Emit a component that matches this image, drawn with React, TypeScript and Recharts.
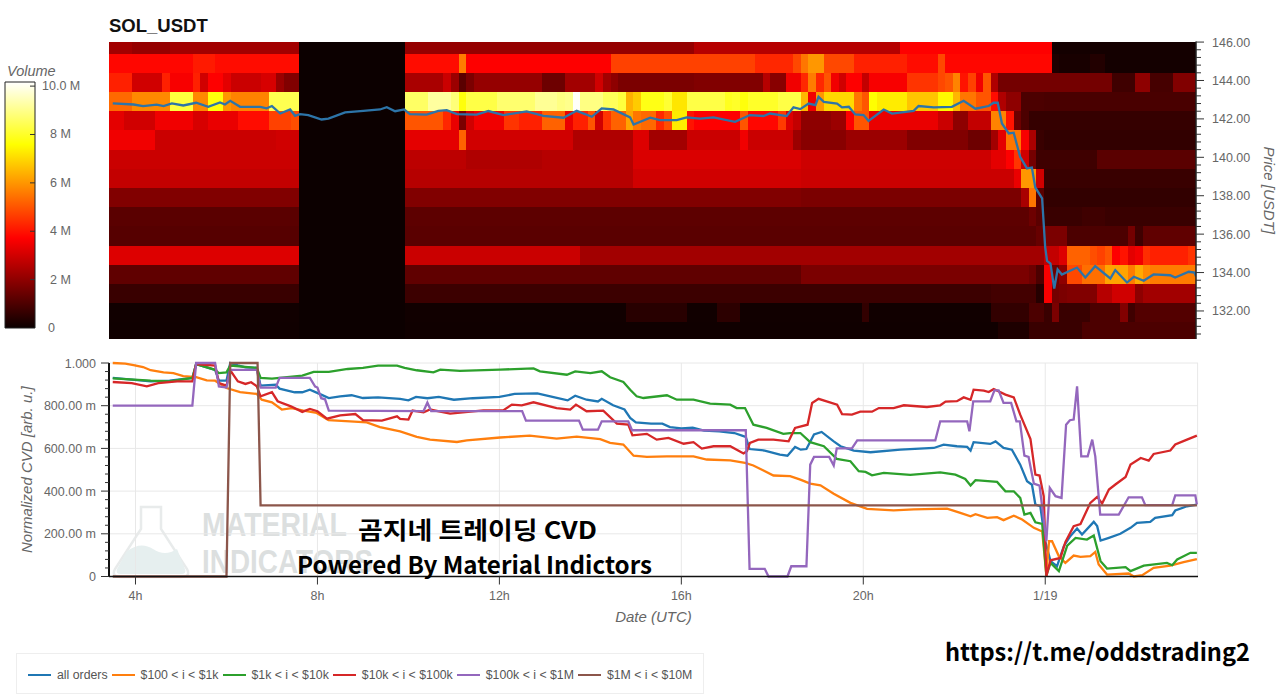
import {
  Bar, BarChart, CartesianGrid, ComposedChart, Legend, Line, LineChart, XAxis, YAxis,
} from 'recharts';

// heatmap: one list per price bin, top to bottom, as [first column, volume in M]
// a value holds until the next entry; there are 143 ten minute columns
const ROW_00 = [[0, 2.3], [3, 2.1], [8, 2.3], [25, .02], [39, 2.1], [77, 2.6], [104, 3.7], [124, .15]];
const ROW_01 = [[0, 3.8], [11, 4.1], [14, 3.9], [25, .02], [39, 3.9], [46, 5.6], [47, 3.7], [66, 4.7], [85, 4.3], [90, 4.8], [91, 5.5], [92, 6], [94, 4.8], [98, 4.2], [105, 3.9], [109, 4.8], [110, 3.8], [124, .3], [125, .2], [129, .35], [131, .15]];
const ROW_02 = [[0, 4.2], [3, 3], [7, 4.2], [8, 3.6], [11, 4.2], [12, 3], [13, 3.7], [15, 3.3], [16, 2.9], [20, 3.1], [22, 2.2], [23, 1.8], [25, .02], [39, 2.4], [44, 2.9], [45, 2.2], [46, 1.2], [47, 1.7], [48, 2.1], [57, 1.5], [60, 2.3], [64, 3], [65, 2.3], [66, 2], [67, 1.7], [77, 1.8], [86, 2.6], [87, 1.9], [89, 3.5], [91, 4.3], [92, 5.6], [93, 4.3], [94, 5], [95, 3.5], [96, 3], [97, 3.7], [99, 2.8], [100, 3.6], [105, 4.5], [109, 4.8], [110, 5], [111, 5.7], [112, 4], [113, 4.7], [114, 3.5], [115, 5], [116, 2.5], [117, 1.6], [132, .8], [135, 2], [137, .9], [140, 1.8]];
const ROW_03 = [[0, 5.3], [3, 5.8], [8, 8.2], [11, 5.8], [13, 7.7], [15, 6], [16, 5.7], [21, 8.4], [25, .02], [39, 8.6], [42, 9.2], [45, 8.8], [46, 7.7], [47, 8.3], [51, 8.7], [56, 9.1], [59, 8.9], [60, 9], [61, 10.1], [62, 8.9], [65, 8.5], [67, 8.2], [68, 6.4], [69, 6.8], [70, 7.8], [73, 8.1], [74, 7.2], [76, 8.3], [81, 7.9], [82, 8], [83, 7.7], [84, 8], [88, 8.3], [91, 6.5], [92, 3.5], [93, 6], [94, 7], [98, 5.5], [99, 5], [100, 7.6], [101, 7.3], [105, 6.7], [109, 7.5], [111, 6.5], [112, 5.5], [114, 5], [116, 3.9], [117, 2.5], [118, 2], [120, 1], [123, .95]];
const ROW_04 = [[0, 3.3], [2, 3], [6, 3.5], [11, 3.1], [13, 3.4], [17, 3.9], [21, 4.7], [24, 4.9], [25, .02], [39, 5], [44, 4.3], [45, 3.4], [46, 1.7], [47, 3], [48, 3.5], [52, 4.5], [54, 4.2], [57, 5.2], [60, 3.4], [61, 4.2], [63, 5], [64, 3], [65, 4.5], [66, 5.2], [68, 6.2], [69, 5.5], [70, 5.3], [72, 4.3], [73, 4.9], [74, 7.3], [76, 4], [77, 3.7], [83, 5], [84, 3.8], [88, 4.6], [89, 3.2], [90, 2.8], [91, 2], [95, 2.2], [97, 3.7], [98, 5], [100, 3.4], [109, 2.9], [111, 2], [113, 2.8], [116, 5.7], [118, 4], [119, 1.5], [120, 1], [121, .65]];
const ROW_05 = [[0, 3.5], [6, 2.9], [22, 3], [25, .02], [39, 3.3], [46, 5.2], [47, 3], [61, 2.5], [69, 3.2], [71, 2.3], [76, 2.9], [83, 3.5], [84, 2.9], [90, 2.2], [91, 1.9], [97, 2.2], [105, 1.8], [113, 1.5], [116, 2.3], [117, 3.3], [118, 5.5], [120, 3.6], [121, 2.4], [122, .7], [123, .6]];
const ROW_06 = [[0, 2.9], [25, .02], [39, 2.7], [47, 2.5], [57, 2.6], [69, 3.15], [91, 2.95], [116, 3.3], [118, 3.7], [119, 4.5], [120, 3], [121, 1.6], [122, .8], [130, 1.2]];
const ROW_07 = [[0, 2.8], [25, .02], [39, 2.6], [69, 3], [91, 2.9], [119, 3.4], [120, 6], [122, 3], [123, .7]];
const ROW_08 = [[0, 1.8], [25, .02], [39, 1.8], [91, 1.7], [120, 2.4], [121, 5.5], [122, 1.2], [123, .6]];
const ROW_09 = [[0, 1.2], [25, .02], [39, 1.25], [121, 1.5], [122, 1.2], [123, .7], [128, .8], [131, .7]];
const ROW_10 = [[0, 1.15], [25, .02], [39, 1.2], [122, 1.4], [123, 1.7], [126, 1], [134, 1.6], [135, .8], [136, 1.3]];
const ROW_11 = [[0, 3.2], [25, .02], [39, 2.9], [62, 2.3], [123, 2.8], [125, 3.2], [126, 5.2], [129, 4.9], [130, 4.7], [131, 5], [132, 3.7], [133, 4], [134, 3.3], [135, 3.5], [136, 4.4], [137, 4.2], [142, 4.5]];
const ROW_12 = [[0, 1.3], [25, .02], [39, 1.3], [91, 1.7], [121, 1.5], [122, 1], [123, 3.6], [124, 1.5], [125, 2], [126, 4.8], [128, 5.4], [131, 6.2], [134, 5.6], [135, 6.3], [136, 5.8], [137, 5.6]];
const ROW_13 = [[0, .7], [25, .02], [39, .75], [116, .85], [122, .4], [123, 3.6], [124, 1.6], [125, 1.7], [126, 1.8], [130, 2.6], [132, 3], [135, 2], [136, 2.3]];
const ROW_14 = [[0, .1], [25, .02], [39, .1], [68, .45], [76, .1], [80, .5], [83, .1], [99, .6], [100, .1], [116, .6], [121, 1], [123, .7], [124, 1.7], [125, .7], [129, 1], [133, 1.8], [134, .8], [135, 1.1]];
const ROW_15 = [[0, .08], [25, .02], [39, .08], [117, .3], [121, .7], [128, 1]];
const HEAT_ROWS = [ROW_00, ROW_01, ROW_02, ROW_03, ROW_04, ROW_05, ROW_06, ROW_07, ROW_08, ROW_09, ROW_10, ROW_11, ROW_12, ROW_13, ROW_14, ROW_15];
const BIN_HEIGHTS = [.63, 1, 1, 1, 1, 1, 1, 1, 1, 1, 1, 1, 1, 1, 1, .86];
const PRICE_MIN = 130.54;
const PRICE_MAX = 146.03;
const COLUMNS = 143;
const VOLUME_MAX = 10.17;

// x is the five minute bar counted from 3:30
const PRICE = [[0, 142.81], [5.5, 142.75], [8, 142.67], [11.6, 142.74], [13.4, 142.67], [15.6, 142.81], [18.6, 142.7], [22, 142.84], [25.2, 142.63], [28.3, 142.86], [29.6, 142.75], [31, 142.94], [33.6, 142.63], [38.9, 142.63], [40.6, 142.55], [42, 142.67], [44.2, 142.28], [46.8, 142.49], [48.1, 142.16], [49.4, 142.25], [51.6, 142.2], [55.1, 141.97], [56.9, 142.02], [61.3, 142.34], [66.1, 142.42], [70.5, 142.49], [72.3, 142.61], [74.5, 142.4], [76.9, 142.49], [78.4, 142.25], [82.8, 142.22], [85.9, 142.42], [88.1, 142.46], [90.8, 142.25], [96, 142.22], [99.1, 142.41], [103.1, 142.2], [109.2, 142.39], [113.6, 142.16], [118.9, 142.06], [122.4, 142.42], [126.4, 142.11], [129, 142.55], [132.1, 142.49], [136.5, 142.08], [137.4, 141.71], [141.8, 142.06], [144.4, 141.94], [148.8, 141.94], [151.4, 142.08], [155, 142.01], [158.5, 142.08], [164.2, 141.85], [168.1, 142.2], [171.7, 142.15], [173.4, 142.28], [177.8, 142.15], [179.6, 142.6], [181.4, 142.51], [183.6, 142.8], [185.4, 142.72], [186.2, 143.15], [187.6, 142.89], [191.1, 142.8], [192.4, 142.6], [194.2, 142.63], [195.9, 142.23], [198.1, 142.2], [199.4, 141.9], [203.4, 142.49], [205.6, 142.28], [211.3, 142.42], [212.6, 142.67], [216.6, 142.6], [221.4, 142.63], [224.5, 142.94], [227.6, 142.53], [231.1, 142.67], [232.4, 142.84], [233.5, 142.84], [234.6, 141.76], [236.4, 141.24], [237.7, 141.28], [239.4, 140.03], [241.2, 139.42], [242.5, 139.47], [243.4, 138.43], [245.2, 137.86], [246, 135.34], [246.5, 134.61], [247.4, 134.47], [248.4, 133.17], [249.3, 134.16], [250.4, 133.9], [254.4, 134.26], [256.6, 133.74], [259.2, 134.33], [263.2, 133.69], [264.5, 134.13], [267.6, 133.48], [269.4, 133.78], [272, 133.57], [274.6, 133.9], [279, 133.86], [280.3, 133.74], [283.9, 134.04], [285.4, 134], [285.8, 133.81]];

const ALL_ORDERS = [[0, .93], [10, .914], [15, .917], [21, .93], [22, .995], [27, .968], [28, .917], [30, .917], [31, 1], [33, .989], [35, .98], [38, .977], [39, .894], [43, .899], [44, .88], [48, .863], [50, .863], [52, .875], [55, .852], [57, .836], [60, .844], [63, .849], [66, .836], [70, .839], [75.8, .832], [78, .825], [80, .841], [83, .835], [86, .841], [90, .828], [95, .835], [102, .841], [106, .855], [112, .858], [116, .841], [120, .825], [122, .847], [125, .828], [128, .82], [129, .832], [132, .802], [135, .782], [136.5, .743], [138, .722], [142, .716], [145, .716], [147, .7], [150, .694], [153, .697], [156, .683], [160, .68], [164, .672], [166, .66], [167, .654], [168, .597], [172, .59], [176, .571], [178, .566], [180, .607], [181.5, .594], [183, .597], [185, .665], [187, .677], [190.2, .633], [192, .61], [195.5, .59], [199.9, .582], [207.8, .594], [216.6, .602], [219.2, .618], [222.7, .61], [225.4, .607], [226.3, .59], [227.1, .629], [231.5, .621], [232.9, .633], [235, .602], [237.2, .594], [239.4, .524], [241.2, .446], [242.5, .43], [243.4, .337], [244.7, .329], [246, .165], [247.4, .072], [249.1, .048], [250.9, .142], [252.6, .189], [254.4, .225], [255.7, .197], [258.8, .256], [259.7, .236], [260.6, .168], [262.8, .181], [265.8, .2], [268.5, .228], [270.2, .251], [273.7, .256], [275, .275], [279.5, .287], [280.3, .309], [283.4, .329], [286, .337]];
const SIZE_100_1K = [[0, 1], [3.3, .997], [5.5, .99], [8, .981], [10, .966], [13.4, .956], [16, .953], [18.6, .939], [22, .934], [24.8, .919], [27, .917], [30, .883], [33.6, .864], [38, .855], [39.3, .828], [42, .816], [44.6, .782], [47.2, .789], [50.3, .777], [53.8, .766], [56.9, .732], [62.6, .727], [67, .722], [70.5, .7], [75.8, .68], [80.2, .654], [83.7, .641], [90.8, .63], [93.4, .638], [102.2, .651], [110, .66], [117.1, .646], [122.4, .655], [128.6, .643], [131.2, .626], [134.7, .618], [137.4, .566], [140.9, .56], [146.2, .563], [153.2, .563], [156.7, .548], [162.9, .544], [166.8, .532], [169, .52], [174.3, .473], [178.7, .47], [181.4, .454], [184, .435], [186.7, .427], [190.2, .388], [194.6, .345], [199, .317], [206, .31], [211.3, .314], [220.1, .318], [223.6, .298], [226.3, .282], [227.6, .292], [230.7, .275], [233.3, .278], [235, .264], [237.7, .285], [239.9, .267], [243, .228], [245.2, .211], [246.3, .005], [247, .165], [247.8, .165], [249.6, .095], [251.3, .064], [253.5, .098], [255.3, .092], [257.9, .095], [259.2, .115], [260.1, .056], [262.3, .009], [268, .014], [269.4, 0], [271.6, .006], [274.6, .041], [279, .051], [282.5, .067], [286, .081]];
const SIZE_1K_10K = [[0, .928], [10, .917], [15, .914], [18, .922], [21, .93], [22, .995], [27, .968], [28, .953], [30, .956], [31, .988], [38, .977], [39, .93], [42, .927], [46, .934], [50, .941], [53, .958], [57, .958], [62, .972], [66, .977], [70, .988], [75, .988], [77, .977], [80.2, .966], [84.6, .956], [86.4, .969], [91.6, .963], [102.2, .969], [111, .975], [112.7, .961], [119.8, .945], [122, .961], [126, .953], [129, .961], [131.2, .933], [134.7, .911], [136.5, .875], [138.2, .844], [140, .836], [146.2, .849], [148.8, .828], [153.2, .828], [157.6, .81], [162.9, .805], [164.6, .789], [166.8, .789], [169, .711], [172.5, .696], [176.9, .668], [178.7, .672], [181.4, .672], [184, .629], [187.6, .61], [191, .551], [194.6, .54], [196.8, .493], [198.6, .49], [200.3, .474], [203.4, .485], [210.4, .476], [218.3, .488], [222.3, .477], [224.9, .457], [226.3, .426], [227.6, .451], [233.3, .443], [235.5, .399], [237.7, .399], [239.4, .368], [240.5, .29], [242.1, .298], [243.4, .254], [245.2, .246], [246.3, .005], [247.4, .064], [249.6, .025], [251.8, .145], [254, .181], [257, .173], [258.8, .192], [260.6, .072], [262.3, .037], [267.2, .044], [268.5, .025], [272, .051], [278.1, .064], [279.5, .053], [280.8, .08], [284.3, .111], [286, .111]];
const SIZE_10K_100K = [[0, .911], [5, .906], [9, .891], [12, .906], [17, .914], [21, .914], [22, .995], [27, .988], [28, .906], [30, .894], [31, .966], [33, .914], [35, .902], [36.5, .91], [38, .891], [39, .844], [42, .863], [43.5, .821], [47, .797], [50, .771], [52, .785], [54, .774], [56.5, .739], [60, .755], [64, .761], [66, .732], [71, .73], [75, .75], [75.8, .738], [78, .735], [79.1, .777], [82, .769], [83.7, .782], [89, .763], [97.8, .778], [103, .778], [105.3, .805], [107.9, .802], [111, .816], [117.1, .789], [120.7, .782], [122.2, .805], [125, .774], [129.4, .777], [133, .716], [136, .711], [137.1, .661], [140.9, .668], [143.5, .641], [146.6, .649], [150.6, .622], [153.2, .629], [155.4, .599], [158.5, .61], [162.9, .61], [166.4, .576], [167.3, .587], [168.1, .626], [170.3, .641], [174.3, .641], [178.3, .633], [180, .696], [183.3, .711], [184.5, .813], [186.2, .832], [191.1, .805], [192.4, .761], [195, .758], [197.2, .772], [200.3, .772], [202.1, .789], [206, .789], [208.7, .802], [214.8, .794], [218.3, .802], [219.7, .819], [222.7, .821], [224.5, .839], [226.3, .828], [227.1, .875], [229.8, .871], [231.1, .864], [232.4, .878], [235.5, .852], [237.7, .839], [239.4, .758], [242.1, .644], [243.4, .477], [244.5, .473], [245.6, .376], [246.3, .002], [247.4, .076], [250, .087], [251.3, .161], [253.5, .236], [255.3, .246], [257.9, .345], [259.7, .373], [261, .342], [262.8, .407], [264.5, .431], [267.2, .466], [268.5, .524], [271.2, .555], [273.3, .543], [274.6, .574], [279, .59], [280.3, .618], [283.4, .641], [286, .66]];
const SIZE_100K_1M = [[0, .8], [21, .8], [22, 1], [27, 1], [28, .89], [30, .885], [31, .968], [38, .968], [39, .885], [43, .885], [44, .93], [52, .93], [53.4, .89], [54, .885], [55, .835], [56, .83], [57, .777], [82, .775], [83, .815], [84, .775], [108, .775], [109, .73], [123, .73], [124, .688], [128, .688], [129, .727], [136, .727], [137, .685], [167, .685], [168, .036], [172, .036], [173, 0], [178, 0], [179, .048], [183, .048], [184, .524], [185, .56], [189, .56], [190.2, .52], [191, .6], [195, .6], [196.4, .638], [217, .638], [218.3, .727], [225.4, .727], [226, .68], [227, .82], [231.5, .82], [232.6, .872], [233.7, .872], [235, .813], [237, .813], [238.4, .727], [239.3, .727], [240.5, .566], [241.6, .56], [243, .435], [244.5, .426], [246.3, .165], [247.2, .415], [248.7, .376], [250.3, .368], [251.5, .711], [252.5, .732], [253.5, .735], [254.4, .891], [255.5, .563], [257.2, .563], [258.4, .641], [259.2, .563], [260.5, .29], [265.4, .29], [268, .371], [271.5, .371], [272.4, .334], [279.5, .334], [280.3, .38], [285.6, .38], [286, .337]];
const SIZE_1M_10M = [[0, 0], [30, 0], [31, 1], [38.2, 1], [39, .333], [286, .333]];

const LINE_COLORS = ['#1f77b4', '#ff7f0e', '#2ca02c', '#d62728', '#9467bd', '#8c564b'];
const LINE_NAMES = ['all orders', '$100 < i < $1k', '$1k < i < $10k', '$10k < i < $100k', '$100k < i < $1M', '$1M < i < $10M'];
const LINE_DATA = [ALL_ORDERS, SIZE_100_1K, SIZE_1K_10K, SIZE_10K_100K, SIZE_100K_1M, SIZE_1M_10M];

const PRICE_TICKS = [146, 145.6, 145.2, 144.8, 144.4, 144, 143.6, 143.2, 142.8, 142.4, 142, 141.6, 141.2, 140.8, 140.4, 140, 139.6, 139.2, 138.8, 138.4, 138, 137.6, 137.2, 136.8, 136.4, 136, 135.6, 135.2, 134.8, 134.4, 134, 133.6, 133.2, 132.8, 132.4, 132, 131.6, 131.2, 130.8];
const CVD_TICKS = [0, .04, .08, .12, .16, .2, .24, .28, .32, .36, .4, .44, .48, .52, .56, .6, .64, .68, .72, .76, .8, .84, .88, .92, .96, 1];
const CVD_GRID = [.2, .4, .6, .8, 1];
const TIME_TICKS = [6, 54, 102, 150, 198, 246];
const TIME_GRID = [6, 54, 102, 150, 198, 246, 286.2];
const TIME_LABELS = ['4h', '8h', '12h', '16h', '20h', '1/19'];
const VOLUME_TICKS = [0, 2, 4, 6, 8, 10];

const GRAY = '#666';
const FONT = '"Liberation Sans", Arial, sans-serif';

function hotColor(v: number) {
  const t = Math.min(1, v / VOLUME_MAX);
  const r = Math.min(1, .0416 + t * (1 - .0416) / .365);
  const g = Math.max(0, Math.min(1, (t - .365) / .381));
  const b = Math.max(0, (t - .746) / .254);
  return `rgb(${Math.round(r * 255)},${Math.round(g * 255)},${Math.round(b * 255)})`;
}

function valueAt(row: number[][], col: number) {
  let v = row[0][1];
  for (const [from, vol] of row) if (from <= col) v = vol;
  return v;
}

const heatData = Array.from({ length: COLUMNS }, (_, col) => {
  const d: Record<string, number> = { col, base: PRICE_MIN };
  HEAT_ROWS.forEach((row, i) => {
    d[`h${i}`] = BIN_HEIGHTS[i];
    d[`v${i}`] = valueAt(row, col);
  });
  return d;
});

const toPoints = (pairs: number[][]) => pairs.map(([k, v]) => ({ k, v }));
const priceData = toPoints(PRICE);
const binOrder = HEAT_ROWS.map((_, i) => HEAT_ROWS.length - 1 - i);

function PriceTick({ x, y, payload }: any) {
  const major = Math.abs(payload.value % 2) < 1e-6;
  return (
    <g>
      <line x1={x} x2={x + (major ? 8 : 5)} y1={y} y2={y} stroke="#333" strokeWidth={1} />
      {major && <text x={x + 16} y={y + 4.5} fontSize={12.5} fill={GRAY} fontFamily={FONT}>{payload.value.toFixed(2)}</text>}
    </g>
  );
}

function CvdTick({ x, y, payload }: any) {
  const v = payload.value;
  const major = CVD_GRID.includes(v) || v === 0;
  const text = v === 1 ? '1.000' : v === 0 ? '0' : `${(v * 1000).toFixed(2)} m`;
  return (
    <g>
      <line x1={x} x2={x - (major ? 8 : 4)} y1={y} y2={y} stroke="#333" strokeWidth={1} />
      {major && <text x={x - 13} y={y + 4.5} textAnchor="end" fontSize={12.5} fill={GRAY} fontFamily={FONT}>{text}</text>}
    </g>
  );
}

function TimeTick({ x, y, index }: any) {
  return (
    <g>
      <line x1={x} x2={x} y1={y} y2={y + 8} stroke="#333" strokeWidth={1} />
      <text x={x} y={y + 23} textAnchor="middle" fontSize={12.5} fill={GRAY} fontFamily={FONT}>{TIME_LABELS[index]}</text>
    </g>
  );
}

function VolumeTick({ x, y, payload }: any) {
  return (
    <g>
      {payload.value > 0 && <line x1={x} x2={x - 5} y1={y} y2={y} stroke="#333" strokeWidth={1} />}
      <text x={x + (payload.value === 10 ? 7 : payload.value === 0 ? 13 : 15)} y={y + 4} fontSize={12.5} fill={GRAY} fontFamily={FONT}>
        {payload.value === 0 ? '0' : payload.value === 10 ? '10.0 M' : `${payload.value} M`}
      </text>
    </g>
  );
}

function LegendBox({ payload }: any) {
  return (
    <div style={{ display: 'flex', alignItems: 'center', height: 41, width: 688, boxSizing: 'border-box', border: '1px solid #eee', paddingLeft: 11, paddingTop: 3, fontFamily: FONT, fontSize: 12.3, color: '#555', whiteSpace: 'nowrap' }}>
      {payload.map((p: any) => (
        <span key={p.value} style={{ display: 'flex', alignItems: 'center', marginRight: 4 }}>
          <svg width={23} height={4} style={{ marginRight: 6 }}>
            <line x1={0} x2={23} y1={2} y2={2} stroke={p.color} strokeWidth={2} />
          </svg>
          {p.value}
        </span>
      ))}
    </div>
  );
}

function Watermark() {
  return (
    <svg width={300} height={80} style={{ position: 'absolute', left: 105, top: 503 }}>
      <path d="M36 4 H56 V26 L82 66 Q86 74 76 74 H16 Q6 74 10 66 L36 26 Z" fill="none" stroke="#e8ebeb" strokeWidth={2.5} />
      <path d="M22 48 Q36 38 48 46 T72 46 L80 66 Q82 71 76 71 H16 Q10 71 12 66 Z" fill="#e6efef" />
      <text x={97} y={33} fontFamily='"Liberation Sans Narrow", "Liberation Sans"' fontWeight={700} fontSize={34} fill="#dcdfdf" textLength={145} lengthAdjust="spacingAndGlyphs">MATERIAL</text>
      <text x={97} y={70} fontFamily='"Liberation Sans Narrow", "Liberation Sans"' fontWeight={700} fontSize={34} fill="#dcdfdf" textLength={171} lengthAdjust="spacingAndGlyphs">INDICATORS</text>
    </svg>
  );
}

export default function App() {
  return (
    <div style={{ position: 'absolute', left: 0, top: 0, width: 1280, height: 694, overflow: 'hidden', background: '#fff', fontFamily: FONT }}>
      <div style={{ position: 'absolute', left: 109, top: 15, fontSize: 18.5, fontWeight: 700, color: '#111' }}>SOL_USDT</div>
      <div style={{ position: 'absolute', left: 7, top: 63, fontSize: 14.5, fontStyle: 'italic', color: GRAY }}>Volume</div>

      <div style={{ position: 'absolute', left: 0, top: 72 }}>
        <BarChart width={100} height={266} data={[{ name: 'volume', value: VOLUME_MAX }]} margin={{ top: 10, right: 0, bottom: 10, left: 5 }} barCategoryGap={0}>
          <defs>
            <linearGradient id="hotBar" x1="0" y1="1" x2="0" y2="0">
              {[0, .1, .2, .365, .5, .6, .746, .85, 1].map(t => (
                <stop key={t} offset={t} stopColor={hotColor(t * VOLUME_MAX)} />
              ))}
            </linearGradient>
          </defs>
          <XAxis dataKey="name" hide />
          <YAxis orientation="right" width={65} domain={[0, VOLUME_MAX]} ticks={VOLUME_TICKS} interval={0} tickSize={0} tickMargin={0} axisLine={false} tick={<VolumeTick />} />
          <Bar dataKey="value" fill="url(#hotBar)" stroke="#222" strokeWidth={1} isAnimationActive={false} />
        </BarChart>
      </div>

      <div style={{ position: 'absolute', left: 0, top: 0 }}>
        <ComposedChart width={1280} height={350} data={heatData} margin={{ top: 41.5, right: 0, bottom: 11, left: 109 }} barCategoryGap={0} barGap={0}>
          <XAxis xAxisId="cols" dataKey="col" hide />
          <XAxis xAxisId="time" type="number" dataKey="k" domain={[-0.99, 285.8]} hide allowDataOverflow />
          <YAxis
            orientation="right" width={84} type="number" domain={[PRICE_MIN, PRICE_MAX]} allowDataOverflow
            ticks={PRICE_TICKS} interval={0} tickSize={0} tickMargin={0} axisLine={{ stroke: '#222', strokeWidth: 1.5 }} tick={<PriceTick />}
            label={{ value: 'Price [USDT]', angle: 90, position: 'insideRight', offset: 11, style: { fontSize: 15, fontStyle: 'italic', fill: GRAY, fontFamily: FONT, textAnchor: 'middle' } }}
          />
          <Bar xAxisId="cols" dataKey="base" stackId="heat" shape={() => null} isAnimationActive={false} />
          {binOrder.map(i => (
            <Bar
              key={i} xAxisId="cols" dataKey={`h${i}`} stackId="heat" isAnimationActive={false}
              shape={(p: any) => <rect x={p.x} y={p.y} width={p.width} height={p.height} fill={hotColor(p.payload[`v${i}`])} shapeRendering="crispEdges" />}
            />
          ))}
          <Line xAxisId="time" data={priceData} dataKey="v" stroke="#2d74a8" strokeWidth={2.3} dot={false} isAnimationActive={false} />
        </ComposedChart>
      </div>

      <Watermark />

      <div style={{ position: 'absolute', left: 0, top: 350 }}>
        <LineChart width={1280} height={344} margin={{ top: 13, right: 82, bottom: 87.5, left: 0 }}>
          <CartesianGrid stroke="#e8e8e8" horizontalValues={CVD_GRID} verticalValues={TIME_GRID} />
          <XAxis
            type="number" dataKey="k" domain={[-0.99, 286.3]} allowDataOverflow ticks={TIME_TICKS} interval={0}
            height={30} tickSize={0} tickMargin={0} axisLine={{ stroke: '#111', strokeWidth: 1.5 }} tick={<TimeTick />}
            label={{ value: 'Date (UTC)', position: 'insideBottom', offset: -15, style: { fontSize: 15, fontStyle: 'italic', fill: GRAY, fontFamily: FONT } }}
          />
          <YAxis
            width={109} type="number" domain={[0, 1]} ticks={CVD_TICKS} interval={0} tickSize={0} tickMargin={0} axisLine={{ stroke: '#111', strokeWidth: 2 }} tick={<CvdTick />}
            label={{ value: 'Normalized CVD [arb. u.]', angle: -90, position: 'insideLeft', offset: 27, style: { fontSize: 15, fontStyle: 'italic', fill: GRAY, fontFamily: FONT, textAnchor: 'middle' } }}
          />
          <Legend verticalAlign="middle" align="center" itemSorter={null} content={<LegendBox />} wrapperStyle={{ position: 'absolute', left: 16, top: 303, width: 688, height: 41 }} />
          {LINE_DATA.map((pairs, i) => (
            <Line key={LINE_NAMES[i]} data={toPoints(pairs)} dataKey="v" name={LINE_NAMES[i]} stroke={LINE_COLORS[i]} strokeWidth={2.3} dot={false} isAnimationActive={false} />
          ))}
        </LineChart>
      </div>

      <svg width={1280} height={694} style={{ position: 'absolute', left: 0, top: 0, pointerEvents: 'none' }}>
        <g fontFamily='"Noto Sans CJK KR", sans-serif' fontWeight={700} fontSize={24} fill="#000">
          <text x={477.5} y={539} textAnchor="middle" textLength={239} lengthAdjust="spacingAndGlyphs">곰지네 트레이딩 CVD</text>
          <text x={474.5} y={574} textAnchor="middle" textLength={355} lengthAdjust="spacingAndGlyphs">Powered By Material Indictors</text>
          <text x={945} y={661} textLength={305} lengthAdjust="spacingAndGlyphs">https://t.me/oddstrading2</text>
        </g>
      </svg>
    </div>
  );
}
